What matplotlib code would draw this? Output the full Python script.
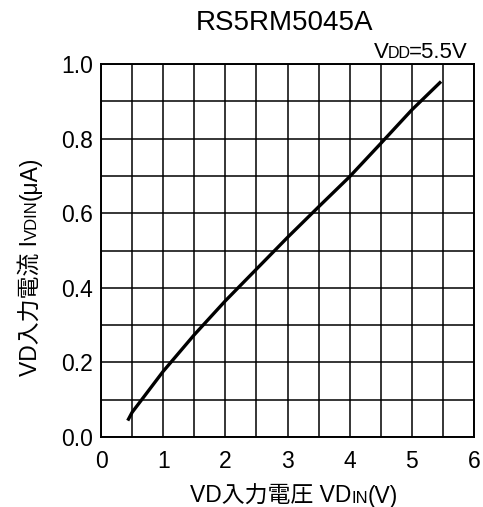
import matplotlib
matplotlib.use("Agg")
import matplotlib.pyplot as plt
from matplotlib.transforms import IdentityTransform
import numpy as np

plt.rcParams['font.family'] = ['Liberation Sans', 'Noto Sans CJK JP', 'DejaVu Sans']

# VD input current vs VD input voltage
vdin = [0.43, 0.5, 1.0, 1.5, 2.0, 2.5, 3.0, 3.5, 4.0, 4.5, 5.0, 5.47]
ivdin = [0.044, 0.066, 0.176, 0.274, 0.365, 0.45, 0.535, 0.617, 0.698, 0.787, 0.877, 0.953]

x_ticks = [0, 1, 2, 3, 4, 5, 6]
y_ticks = [0.0, 0.2, 0.4, 0.6, 0.8, 1.0]

title = "RS5RM5045A"
cond = [("V", 16), ("DD", 11.5), ("=5.5V", 16)]
xlabel = [("VD入力電圧 VD", 16.5), ("IN", 12), ("(V)", 16.5)]
ylabel = [("VD入力電流 I", 16.5), ("VDIN", 12), ("(μA)", 16.5)]

W, H = 483, 507
fig = plt.figure(figsize=(W / 100, H / 100), dpi=100)
ax = fig.add_axes([101 / W, 70 / H, 373 / W, 373 / H])

ax.plot(vdin, ivdin, color="black", lw=2.4, solid_capstyle="butt")

ax.set_xlim(0, 6)
ax.set_ylim(0, 1.0)
ax.set_xticks(x_ticks)
ax.set_xticklabels([str(v) for v in x_ticks])
ax.set_yticks(y_ticks)
ax.set_yticklabels(["%.1f" % v for v in y_ticks])
ax.set_xticks(np.arange(0, 6.01, 0.5), minor=True)
ax.set_yticks(np.arange(0, 1.001, 0.1), minor=True)
ax.grid(which="both", color="black", lw=1.1)
ax.tick_params(which="both", length=0, labelsize=16.5, colors="black")
ax.tick_params(axis="x", pad=9)
ax.tick_params(axis="y", pad=6)
for s in ax.spines.values():
    s.set_linewidth(1.4)


def rich(x, y, parts, rotation=0, align="center", gap=0.0):
    # lay out text pieces of mixed size along one baseline, in pixels
    r = fig.canvas.get_renderer()
    ts = []
    for s, size in parts:
        t = fig.text(0, 0, s, fontsize=size, rotation=rotation,
                     rotation_mode="anchor", ha="left", va="baseline",
                     transform=IdentityTransform())
        ts.append(t)
    lens = []
    for t in ts:
        e = t.get_window_extent(r)
        lens.append(e.width if rotation == 0 else e.height)
    total = sum(lens)
    pos = x - total / 2 if align == "center" else x - total
    if rotation != 0:
        pos = y - total / 2
    for t, L in zip(ts, lens):
        if rotation == 0:
            t.set_position((pos, y))
        else:
            t.set_position((x, pos))
        pos += L + gap


fig.text(284 / W, 1 - 30 / H, title, fontsize=20, ha="center", va="baseline")
rich(471, H - 58, cond, align="right", gap=-1.5)
rich(294, H - 503, xlabel, gap=0.0)
rich(37, H - 266, ylabel, rotation=90, gap=0.0)

fig.savefig("out.png", dpi=100)
